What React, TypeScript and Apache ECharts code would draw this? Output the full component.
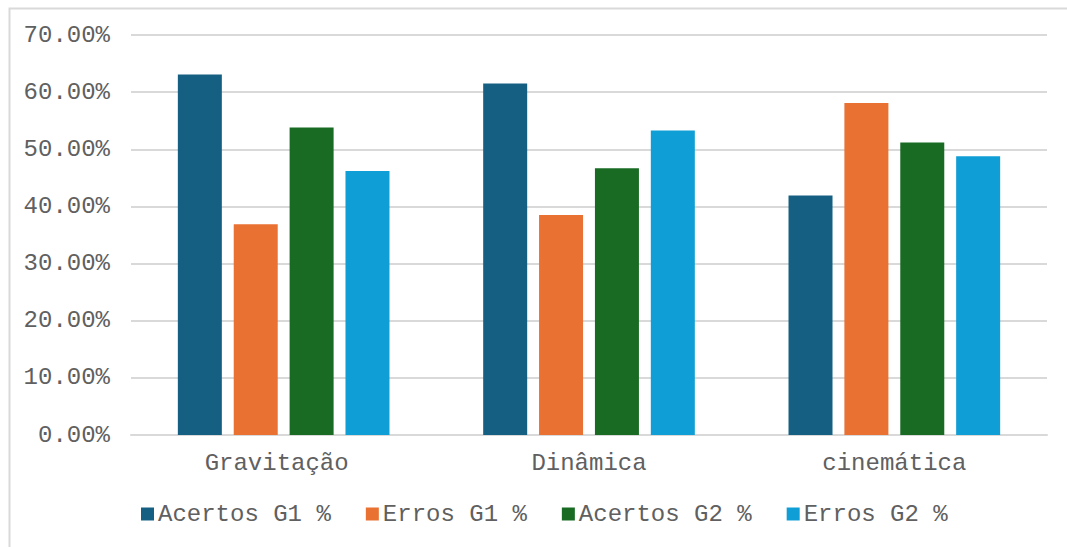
import React, { useEffect, useRef } from "react";
import * as echarts from "echarts";

// Topics on the category axis
const categories = ["Gravitação", "Dinâmica", "cinemática"];

// Percentages per topic for each group
const acertosG1 = [63.1, 61.5, 41.9];
const errosG1 = [36.9, 38.5, 58.1];
const acertosG2 = [53.8, 46.7, 51.2];
const errosG2 = [46.2, 53.3, 48.8];

const seriesNames = ["Acertos G1 %", "Erros G1 %", "Acertos G2 %", "Erros G2 %"];
const seriesColors = ["#156082", "#E97132", "#196B24", "#0F9ED5"];

const FONT = "'Courier New', 'Liberation Mono', monospace";
const TEXT = "#606060";
const LINE = "#d9d9d9";

export default function App() {
  const ref = useRef<HTMLDivElement>(null);

  useEffect(() => {
    if (!ref.current) return;
    const chart = echarts.init(ref.current, undefined, { renderer: "svg" });
    const values = [acertosG1, errosG1, acertosG2, errosG2];

    chart.setOption({
      animation: false,
      backgroundColor: "#ffffff",
      textStyle: { fontFamily: FONT },
      graphic: [
        {
          type: "rect",
          left: 7,
          top: 6,
          shape: { width: 1100, height: 600 },
          style: { fill: "none", stroke: LINE, lineWidth: 2 },
          silent: true,
        },
      ],
      grid: { left: 131, right: 20, top: 35, bottom: 112 },
      legend: {
        left: 136,
        top: 497,
        itemWidth: 13,
        itemHeight: 13,
        itemGap: 35,
        icon: "rect",
        textStyle: { fontFamily: FONT, fontSize: 24, color: TEXT, padding: [0, 0, 0, -1] },
        data: seriesNames,
      },
      xAxis: {
        type: "category",
        // the first topic label sits half a character left of its slot
        data: categories.map((c, i) =>
          i === 0 ? { value: c, textStyle: { padding: [0, 14, 0, 0] } } : c
        ),
        axisLine: { lineStyle: { color: LINE, width: 2 } },
        axisTick: { show: false },
        axisLabel: { fontFamily: FONT, fontSize: 24, color: TEXT, margin: 16 },
      },
      yAxis: {
        type: "value",
        min: 0,
        max: 70,
        interval: 10,
        axisLine: { show: false },
        axisTick: { show: false },
        splitLine: { lineStyle: { color: LINE, width: 2 } },
        axisLabel: {
          fontFamily: FONT,
          fontSize: 24,
          color: TEXT,
          margin: 21,
          formatter: (v: number) => v.toFixed(2) + "%",
        },
      },
      series: seriesNames.map((name, i) => ({
        name,
        type: "bar",
        data: values[i],
        barWidth: 44,
        barGap: "27%",
        itemStyle: { color: seriesColors[i] },
      })),
    });

    return () => chart.dispose();
  }, []);

  return (
    <div
      ref={ref}
      style={{ position: "fixed", left: 0, top: 0, width: 1067, height: 547 }}
    />
  );
}
